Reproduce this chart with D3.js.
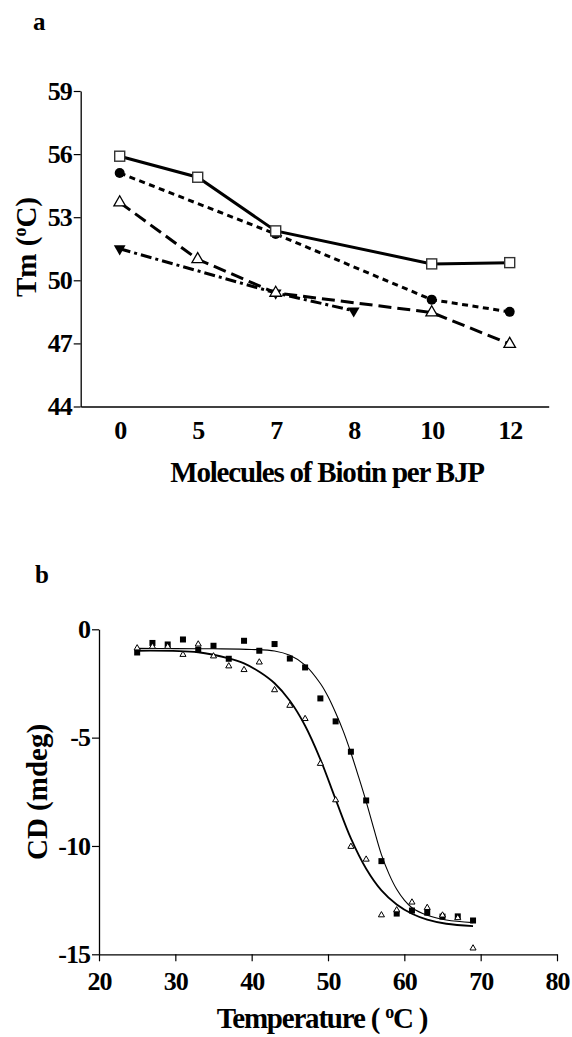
<!DOCTYPE html>
<html>
<head>
<meta charset="utf-8">
<script src="https://cdn.jsdelivr.net/npm/d3@7"></script>
<style>
  body { margin: 0; background: #fff; }
  svg text { font-family: "Liberation Serif", "Times New Roman", serif; font-weight: bold; fill: #000; }
</style>
</head>
<body>
<script>
// panel a: Tm vs biotin per BJP
const biotinCats = ["0", "5", "7", "8", "10", "12"];
const tmTicks = [44, 47, 50, 53, 56, 59];

const squareCats = ["0", "5", "7", "10", "12"];
const squareTm = [55.9, 54.9, 52.35, 50.78, 50.84];
const circleCats = ["0", "7", "10", "12"];
const circleTm = [55.1, 52.2, 49.08, 48.5];
const triUpCats = ["0", "5", "7", "10", "12"];
const triUpTm = [53.7, 51.0, 49.4, 48.47, 46.97];
const triDownCats = ["0", "7", "8"];
const triDownTm = [51.5, 49.4, 48.55];

// panel b: CD melting curves
const temps = [25, 27, 29, 31, 33, 35, 37, 39, 41, 43, 45, 47, 49, 51, 53, 55, 57, 59, 61, 63, 65, 67, 69];
const cdSquare = [-1.07, -0.63, -0.7, -0.47, -0.94, -0.76, -1.36, -0.53, -0.99, -0.68, -1.35, -1.76, -3.19, -4.25, -5.65, -7.9, -10.7, -13.12, -12.98, -13.08, -13.26, -13.25, -13.44];
const cdTriangle = [-0.87, -0.8, -0.8, -1.17, -0.69, -1.24, -1.7, -1.87, -1.52, -2.8, -3.52, -4.13, -6.2, -7.88, -10.03, -10.62, -13.19, -12.96, -12.6, -12.85, -13.2, -13.32, -14.72];

// fitted curves
const fitSqT = [25, 30, 35, 40, 43, 45, 47, 49, 50, 51, 52, 53, 54, 55, 56, 57, 58, 59, 60, 61, 63, 65.5, 69];
const fitSqV = [-0.88, -0.89, -0.9, -0.93, -1.0, -1.2, -1.65, -2.5, -3.1, -3.85, -4.7, -5.7, -6.8, -7.95, -9.2, -10.4, -11.3, -12.0, -12.5, -12.85, -13.2, -13.42, -13.54];
const fitTrT = [25, 33, 37, 39, 41, 43, 45, 47, 49, 51, 53, 55, 57, 59, 61, 63, 65.5, 69];
const fitTrV = [-0.99, -1.06, -1.34, -1.57, -1.96, -2.49, -3.3, -4.45, -6.0, -7.85, -9.65, -11.05, -12.05, -12.7, -13.13, -13.4, -13.59, -13.7];

const W = 572, H = 1037;
const svg = d3.select("body").append("svg")
  .attr("width", W)
  .attr("height", H)

const styleAxis = ax => {
  ax.select(".domain").attr("stroke", "#000").attr("stroke-width", 1.3)
  ax.selectAll(".tick line").attr("stroke", "#000").attr("stroke-width", 1.2)
  ax.selectAll("text").style("font-size", "26px").style("letter-spacing", "-1px")
}

// ---------- panel a ----------
const xa = d3.scalePoint()
  .domain(biotinCats)
  .range([80.7, 548.7])
  .padding(0.5)
const ya = d3.scaleLinear()
  .domain([44, 59])
  .range([406.5, 91])

const gA = svg.append("g")

const yAxisA = gA.append("g")
  .attr("transform", "translate(80.7,0)")
  .call(d3.axisLeft(ya).tickValues(tmTicks).tickFormat(d => String(d)).tickSize(7).tickPadding(2).tickSizeOuter(0))
const xAxisA = gA.append("g")
  .attr("transform", "translate(0,406.5)")
  .call(d3.axisBottom(xa).tickSize(0).tickPadding(14).tickSizeOuter(0))
styleAxis(yAxisA)
styleAxis(xAxisA)

const lineA = d3.line().x(d => xa(d[0])).y(d => ya(d[1]))
const zipA = (c, v) => c.map((k, i) => [k, v[i]])

const seriesA = [
  { data: zipA(triDownCats, triDownTm), dash: "11,4,3,4" },
  { data: zipA(triUpCats, triUpTm), dash: "13,6" },
  { data: zipA(circleCats, circleTm), dash: "6,4.5" },
  { data: zipA(squareCats, squareTm), dash: null }
]
seriesA.forEach(s => {
  gA.append("path")
    .datum(s.data)
    .attr("d", lineA)
    .attr("fill", "none")
    .attr("stroke", "#000")
    .attr("stroke-width", 3)
    .attr("stroke-dasharray", s.dash)
})

gA.selectAll(".tdown")
  .data(zipA(triDownCats, triDownTm))
  .enter().append("path")
  .attr("d", d3.symbol(d3.symbolTriangle, 60))
  .attr("transform", d => "translate(" + xa(d[0]) + "," + ya(d[1]) + ") rotate(180)")
  .attr("fill", "#000")
gA.selectAll(".tup")
  .data(zipA(triUpCats, triUpTm))
  .enter().append("path")
  .attr("d", d3.symbol(d3.symbolTriangle, 58))
  .attr("transform", d => "translate(" + xa(d[0]) + "," + ya(d[1]) + ")")
  .attr("fill", "#fff")
  .attr("stroke", "#000")
  .attr("stroke-width", 1.3)
gA.selectAll(".circ")
  .data(zipA(circleCats, circleTm))
  .enter().append("circle")
  .attr("cx", d => xa(d[0]))
  .attr("cy", d => ya(d[1]))
  .attr("r", 5)
  .attr("fill", "#000")
gA.selectAll(".sq")
  .data(zipA(squareCats, squareTm))
  .enter().append("rect")
  .attr("x", d => xa(d[0]) - 5)
  .attr("y", d => ya(d[1]) - 5)
  .attr("width", 10)
  .attr("height", 10)
  .attr("fill", "#fff")
  .attr("stroke", "#333")
  .attr("stroke-width", 1.4)

svg.append("text")
  .attr("x", 33).attr("y", 30)
  .style("font-size", "25px")
  .text("a")

svg.append("text")
  .attr("x", 327).attr("y", 482)
  .attr("text-anchor", "middle")
  .style("font-size", "29px")
  .style("letter-spacing", "-1.2px")
  .text("Molecules of Biotin per BJP")

const tmLabel = svg.append("text")
  .attr("transform", "translate(36,247) rotate(-90)")
  .attr("text-anchor", "middle")
  .style("font-size", "29px")
tmLabel.append("tspan").text("Tm (")
tmLabel.append("tspan").attr("dy", -10).style("font-size", "18px").text("o")
tmLabel.append("tspan").attr("dy", 10).text("C)")

// ---------- panel b ----------
const xb = d3.scaleLinear()
  .domain([20, 80])
  .range([99, 557])
const yb = d3.scaleLinear()
  .domain([-15, 0])
  .range([954.3, 629.3])

const gB = svg.append("g")
const yAxisB = gB.append("g")
  .attr("transform", "translate(99,0)")
  .call(d3.axisLeft(yb).tickValues([0, -5, -10, -15]).tickFormat(d => String(d)).tickSize(7).tickPadding(2).tickSizeOuter(0))
const xAxisB = gB.append("g")
  .attr("transform", "translate(0,954.3)")
  .call(d3.axisBottom(xb).tickValues([20, 30, 40, 50, 60, 70, 80]).tickFormat(d => String(d)).tickSize(7).tickPadding(10).tickSizeOuter(0))
styleAxis(yAxisB)
styleAxis(xAxisB)

const lineB = d3.line()
  .x(d => xb(d[0]))
  .y(d => yb(d[1]))
  .curve(d3.curveCatmullRom)

gB.append("path")
  .datum(fitTrT.map((t, i) => [t, fitTrV[i]]))
  .attr("d", lineB)
  .attr("fill", "none")
  .attr("stroke", "#000")
  .attr("stroke-width", 1.8)
gB.append("path")
  .datum(fitSqT.map((t, i) => [t, fitSqV[i]]))
  .attr("d", lineB)
  .attr("fill", "none")
  .attr("stroke", "#000")
  .attr("stroke-width", 1.1)

gB.selectAll(".bsq")
  .data(temps.map((t, i) => [t, cdSquare[i]]))
  .enter().append("rect")
  .attr("x", d => xb(d[0]) - 3)
  .attr("y", d => yb(d[1]) - 3)
  .attr("width", 6)
  .attr("height", 6)
  .attr("fill", "#000")
gB.selectAll(".btri")
  .data(temps.map((t, i) => [t, cdTriangle[i]]))
  .enter().append("path")
  .attr("d", d3.symbol(d3.symbolTriangle, 16))
  .attr("transform", d => "translate(" + xb(d[0]) + "," + yb(d[1]) + ")")
  .attr("fill", "#fff")
  .attr("stroke", "#000")
  .attr("stroke-width", 1)

svg.append("text")
  .attr("x", 35).attr("y", 583)
  .style("font-size", "25px")
  .text("b")

svg.append("text")
  .attr("transform", "translate(47,792) rotate(-90)")
  .attr("text-anchor", "middle")
  .style("font-size", "29px")
  .text("CD (mdeg)")

const tLabel = svg.append("text")
  .attr("x", 322).attr("y", 1028)
  .attr("text-anchor", "middle")
  .style("font-size", "29px")
  .style("letter-spacing", "-1.2px")
tLabel.append("tspan").text("Temperature ( ")
tLabel.append("tspan").attr("dy", -10).style("font-size", "18px").text("o")
tLabel.append("tspan").attr("dy", 10).text("C )")
</script>
</body>
</html>
